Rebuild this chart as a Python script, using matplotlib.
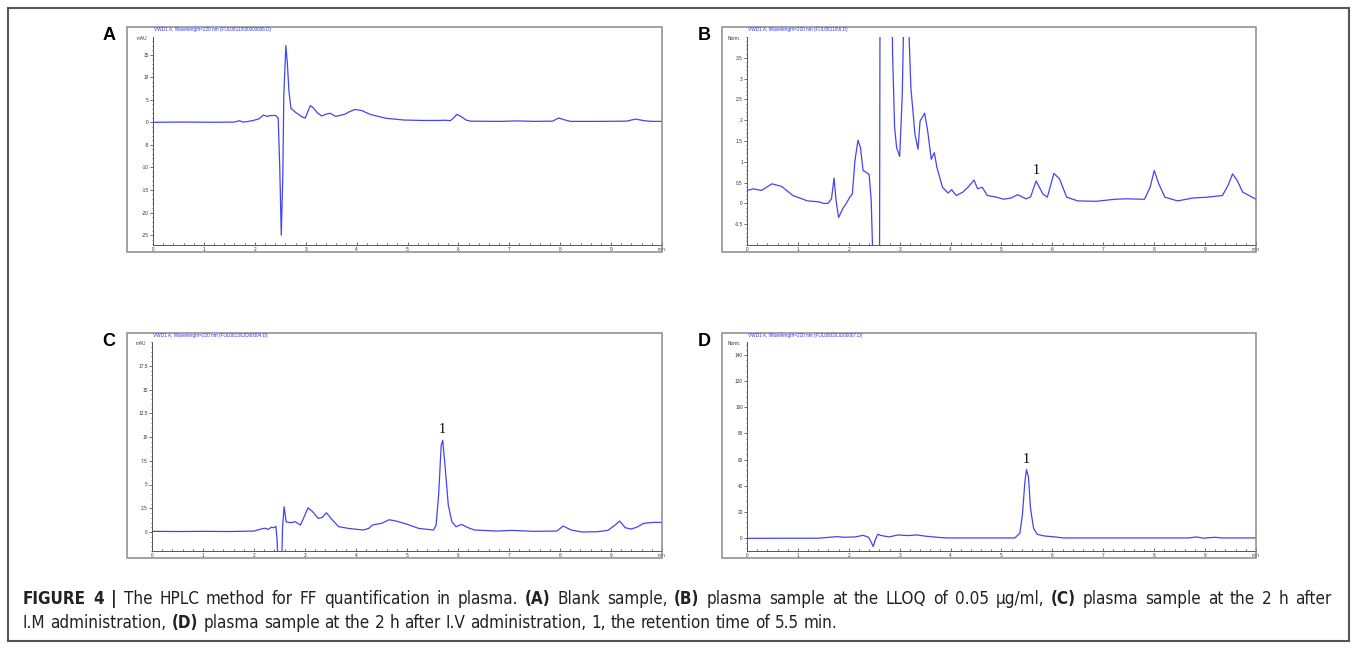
import matplotlib
matplotlib.use('Agg')
import matplotlib.pyplot as plt
from matplotlib import font_manager as fm
from matplotlib.patches import Rectangle
from matplotlib.ticker import AutoMinorLocator

W, H = 1357, 652

# chromatogram traces: (time / min, detector signal)
trace_a = [
    (0.0, 0.0), (0.6, 0.05), (1.2, 0.0), (1.6, 0.05), (1.7, 0.35), (1.76, 0.05),
    (1.85, 0.15), (1.97, 0.4), (2.08, 0.75), (2.17, 1.6), (2.24, 1.3), (2.31, 1.5),
    (2.41, 1.5), (2.46, 0.9), (2.49, -10), (2.52, -25), (2.55, -12), (2.57, 6),
    (2.61, 17), (2.64, 13), (2.67, 7), (2.71, 3.1), (2.8, 2.2), (2.93, 1.2),
    (2.99, 0.9), (3.04, 2.3), (3.09, 3.7), (3.15, 3.2), (3.23, 2.1), (3.31, 1.4),
    (3.4, 1.8), (3.48, 2.0), (3.59, 1.3), (3.68, 1.55), (3.77, 1.8), (3.87, 2.4),
    (3.97, 2.85), (4.1, 2.6), (4.28, 1.7), (4.57, 0.9), (4.93, 0.5), (5.3, 0.4),
    (5.6, 0.4), (5.75, 0.45), (5.84, 0.35), (5.9, 0.9), (5.97, 1.75), (6.05, 1.3),
    (6.15, 0.5), (6.24, 0.25), (6.8, 0.2), (7.15, 0.3), (7.5, 0.2), (7.85, 0.25),
    (7.97, 0.95), (8.08, 0.55), (8.2, 0.2), (8.8, 0.2), (9.3, 0.25), (9.48, 0.7),
    (9.65, 0.35), (9.8, 0.2), (10.0, 0.2),
]
trace_b = [
    (0.0, 0.31), (0.13, 0.35), (0.28, 0.31), (0.49, 0.47), (0.68, 0.41), (0.9, 0.19),
    (1.19, 0.06), (1.4, 0.04), (1.51, 0.0), (1.59, 0.0), (1.66, 0.11), (1.71, 0.61),
    (1.75, 0.07), (1.8, -0.34), (1.88, -0.13), (1.95, 0.0), (2.02, 0.15), (2.07, 0.23),
    (2.12, 1.02), (2.18, 1.52), (2.23, 1.34), (2.28, 0.79), (2.34, 0.75), (2.4, 0.69),
    (2.44, 0.07), (2.47, -1.2), (2.5, -4), (2.6, -4), (2.615, 6), (2.84, 6),
    (2.86, 3.6), (2.9, 1.82), (2.94, 1.34), (3.0, 1.13), (3.05, 2.6), (3.08, 4.5),
    (3.17, 4.5), (3.22, 2.77), (3.3, 1.66), (3.36, 1.3), (3.4, 1.98), (3.49, 2.17),
    (3.55, 1.74), (3.62, 1.06), (3.68, 1.22), (3.73, 0.87), (3.84, 0.39), (3.95, 0.25),
    (4.02, 0.33), (4.11, 0.19), (4.24, 0.27), (4.35, 0.4), (4.46, 0.56), (4.53, 0.35),
    (4.62, 0.39), (4.72, 0.19), (4.9, 0.15), (5.04, 0.1), (5.19, 0.13), (5.32, 0.21),
    (5.48, 0.11), (5.57, 0.15), (5.68, 0.54), (5.81, 0.23), (5.9, 0.15), (6.03, 0.72),
    (6.14, 0.59), (6.28, 0.15), (6.5, 0.06), (6.86, 0.05), (7.23, 0.1), (7.45, 0.11),
    (7.81, 0.1), (7.92, 0.39), (8.0, 0.79), (8.09, 0.47), (8.21, 0.15), (8.46, 0.06),
    (8.76, 0.13), (9.05, 0.15), (9.34, 0.19), (9.45, 0.43), (9.54, 0.71), (9.63, 0.55),
    (9.74, 0.27), (10.0, 0.1),
]
trace_c = [
    (0.0, 0.07), (0.5, 0.05), (1.0, 0.07), (1.5, 0.05), (2.0, 0.1), (2.13, 0.3),
    (2.21, 0.4), (2.28, 0.28), (2.34, 0.5), (2.39, 0.45), (2.43, 0.6), (2.455, -1),
    (2.47, -4), (2.54, -4), (2.56, 0.5), (2.59, 2.66), (2.63, 1.08), (2.72, 0.98),
    (2.81, 1.08), (2.91, 0.73), (2.97, 1.43), (3.06, 2.55), (3.15, 2.13), (3.26, 1.43),
    (3.34, 1.54), (3.42, 2.03), (3.52, 1.36), (3.66, 0.56), (3.85, 0.38), (4.14, 0.21),
    (4.25, 0.38), (4.32, 0.73), (4.5, 0.91), (4.65, 1.29), (4.79, 1.15), (5.01, 0.8),
    (5.23, 0.38), (5.52, 0.21), (5.57, 0.73), (5.62, 3.88), (5.67, 9.1), (5.7, 9.65),
    (5.75, 6.68), (5.81, 2.83), (5.88, 1.08), (5.96, 0.56), (6.07, 0.8), (6.18, 0.49),
    (6.32, 0.21), (6.76, 0.1), (7.05, 0.17), (7.49, 0.07), (7.94, 0.1), (8.06, 0.63),
    (8.22, 0.21), (8.43, 0.0), (8.73, 0.03), (8.94, 0.17), (9.08, 0.73), (9.17, 1.15),
    (9.28, 0.45), (9.39, 0.31), (9.5, 0.49), (9.64, 0.91), (9.82, 1.01), (10.0, 1.01),
]
trace_d = [
    (0.0, -0.3), (1.4, -0.2), (1.77, 1.0), (1.91, 0.5), (2.13, 0.8), (2.28, 2.0),
    (2.39, 0.5), (2.45, -4.0), (2.48, -6.6), (2.52, -1.5), (2.57, 2.8), (2.64, 1.8),
    (2.79, 0.8), (2.97, 2.3), (3.15, 1.8), (3.33, 2.3), (3.52, 1.3), (3.81, 0.25),
    (3.95, 0.0), (5.26, 0.0), (5.36, 3.5), (5.41, 17.5), (5.46, 43.0), (5.49, 52.3),
    (5.53, 46.7), (5.57, 22.6), (5.63, 7.4), (5.7, 2.8), (5.84, 1.5), (6.06, 0.76),
    (6.21, 0.0), (8.68, 0.0), (8.83, 0.76), (8.97, -0.2), (9.19, 0.5), (9.34, 0.0),
    (10.0, 0.0),
]

# peak "1" (retention ~5.5 min) apex in panels B, C, D
peak_time = {'B': 5.68, 'C': 5.70, 'D': 5.49}
peak_height = {'B': 0.54, 'C': 9.65, 'D': 52.3}

x_ticks = list(range(11))
x_labels = [str(i) for i in range(10)] + ['min']

yticks_a = [-25, -20, -15, -10, -5, 0, 5, 10, 15]
yticks_b = [-0.5, 0, 0.5, 1, 1.5, 2, 2.5, 3, 3.5]
yticks_c = [0, 2.5, 5, 7.5, 10, 12.5, 15, 17.5]
yticks_d = [0, 20, 40, 60, 80, 100, 120, 140]

titles = {
    'A': 'VWD1 A, Wavelength=220 nm (FUL08110\\00000006.D)',
    'B': 'VWD1 A, Wavelength=220 nm (FUL08110\\6.D)',
    'C': 'VWD1 A, Wavelength=220 nm (FUL0813\\LID00004.D)',
    'D': 'VWD1 A, Wavelength=220 nm (FUL0802\\LID00007.D)',
}
units = {'A': 'mAU', 'B': 'Norm.', 'C': 'mAU', 'D': 'Norm.'}

# layout, in pixels of the 1357x652 picture: frame box and axes box (l, t, r, b)
frames = {'A': (127, 27, 662, 252), 'B': (722, 27, 1256, 252),
          'C': (127, 333, 662, 558), 'D': (722, 333, 1256, 558)}
boxes = {'A': (153, 37, 662, 245), 'B': (747, 37, 1256, 245),
         'C': (152, 342, 662, 551), 'D': (747, 342, 1256, 551)}
ylims = {'A': (-27.2, 18.9), 'B': (-1.0, 4.0), 'C': (-2.0, 20.0), 'D': (-10.0, 150.0)}

traces = {'A': trace_a, 'B': trace_b, 'C': trace_c, 'D': trace_d}
yticks = {'A': yticks_a, 'B': yticks_b, 'C': yticks_c, 'D': yticks_d}

LINE = '#4444f0'
AXC = '#555555'
SANS = ['Liberation Sans', 'DejaVu Sans']

# the caption is set in a narrow grotesque; use a narrow face if one is installed
installed = {f.name: f for f in fm.fontManager.ttflist}
CAP = ['Liberation Sans']
CAP_STRETCH = 'normal'
for cand in ('Liberation Sans Narrow', 'Arial Narrow', 'Nimbus Sans Narrow'):
    if cand in installed:
        CAP = [cand, 'Liberation Sans']
        break
else:
    cond = [f for f in fm.fontManager.ttflist
            if f.name == 'DejaVu Sans' and f.stretch in ('condensed', 'semi-condensed')]
    if cond:
        CAP = ['DejaVu Sans']
        CAP_STRETCH = 'condensed'

fig = plt.figure(figsize=(W / 100, H / 100), dpi=100)


def fx(px):
    return px / W


def fy(py):
    return 1 - py / H


# outer border of the whole figure
fig.add_artist(Rectangle((fx(8), fy(641)), (1349 - 8) / W, (641 - 8) / H,
                         transform=fig.transFigure, fill=False, ec='#555555', lw=1.5))

for key in 'ABCD':
    l, t, r, b = frames[key]
    fig.add_artist(Rectangle((fx(l), fy(b)), (r - l) / W, (b - t) / H,
                             transform=fig.transFigure, fill=False, ec='#8a8a8a', lw=1.1))
    fig.text(fx(l - 18), fy(t + 8), key, fontsize=13, fontweight='bold',
             family=SANS, ha='center', va='center')
    fig.text(fx(boxes[key][0] + 1), fy(t + 2.5), titles[key], fontsize=3.4,
             color='#3333ff', family=SANS, ha='left', va='center')

    al, at, ar, ab = boxes[key]
    ax = fig.add_axes([fx(al), fy(ab), (ar - al) / W, (ab - at) / H])
    xs = [p[0] for p in traces[key]]
    ys = [p[1] for p in traces[key]]
    ax.plot(xs, ys, color=LINE, lw=0.9, solid_joinstyle='round')

    ax.set_xlim(0, 10)
    ax.set_ylim(*ylims[key])
    ax.set_xticks(x_ticks)
    ax.set_xticklabels(x_labels)
    ax.set_yticks(yticks[key])
    ax.set_yticklabels(['%g' % v for v in yticks[key]])
    ax.xaxis.set_minor_locator(AutoMinorLocator(5))
    ax.yaxis.set_minor_locator(AutoMinorLocator(5))
    ax.tick_params(axis='x', which='both', direction='in', colors=AXC,
                   labelsize=3.4, pad=1.2, width=0.6)
    ax.tick_params(axis='x', which='major', length=2.2)
    ax.tick_params(axis='x', which='minor', length=1.2)
    ax.tick_params(axis='y', which='both', direction='out', colors=AXC,
                   labelsize=3.4, pad=1.0, width=0.6)
    ax.tick_params(axis='y', which='major', length=2.0)
    ax.tick_params(axis='y', which='minor', length=1.0)
    for lab in ax.get_xticklabels() + ax.get_yticklabels():
        lab.set_color('#333333')
        lab.set_family(SANS)
    for s in ('top', 'right'):
        ax.spines[s].set_visible(False)
    for s in ('left', 'bottom'):
        ax.spines[s].set_color(AXC)
        ax.spines[s].set_linewidth(0.7)
    ax.patch.set_alpha(0)
    ax.text(-0.012, 0.995, units[key], transform=ax.transAxes, fontsize=3.4,
            color='#333333', family=SANS, ha='right', va='center')

    if key in peak_time:
        ax.annotate('1', (peak_time[key], peak_height[key]), xytext=(0, 7.5),
                    textcoords='offset points', ha='center', va='center',
                    fontsize=10, family=['Liberation Serif', 'DejaVu Serif'])

# caption with bold pieces; the first line is justified to the full width
line1 = [('FIGURE 4 |', True), ('The HPLC method for FF quantification in plasma.', False),
         ('(A)', True), ('Blank sample,', False), ('(B)', True),
         ('plasma sample at the LLOQ of 0.05 \u03bcg/ml,', False), ('(C)', True),
         ('plasma sample at the 2 h after', False)]
line2 = [('I.M administration,', False), ('(D)', True),
         ('plasma sample at the 2 h after I.V administration, 1, the retention time of 5.5 min.', False)]

renderer = fig.canvas.get_renderer()


def make_text(x, y, txt, bold, size, **kw):
    return fig.text(x, y, txt, fontsize=size, fontweight='bold' if bold else 'normal',
                    family=CAP, fontstretch=CAP_STRETCH, **kw)


def width_of(txt, bold, size):
    t = make_text(0, 0, txt, bold, size)
    w = t.get_window_extent(renderer).width
    t.remove()
    return w


def space_of(bold, size):
    return width_of('x x', bold, size) - width_of('xx', bold, size)


def words(parts):
    return [(w, b) for s, b in parts for w in s.split(' ')]


def natural_width(parts, size):
    ws = words(parts)
    return (sum(width_of(w, b, size) for w, b in ws)
            + sum(space_of(b, size) for w, b in ws[:-1]))


def draw_line(parts, x0, y0, size, x1=None):
    ws = words(parts)
    extra = 0.0
    if x1 is not None:
        extra = (x1 - x0 - natural_width(parts, size)) / (len(ws) - 1)
    x = x0
    for w, b in ws:
        make_text(fx(x), fy(y0), w, b, size, ha='left', va='center', color='#222222')
        x += width_of(w, b, size) + space_of(b, size) + extra


size = 11.0
size = size * 1255 / natural_width(line1, size)
draw_line(line1, 23, 599, size, x1=1331)
draw_line(line2, 23, 623, size)

fig.savefig('out.png', dpi=100)
